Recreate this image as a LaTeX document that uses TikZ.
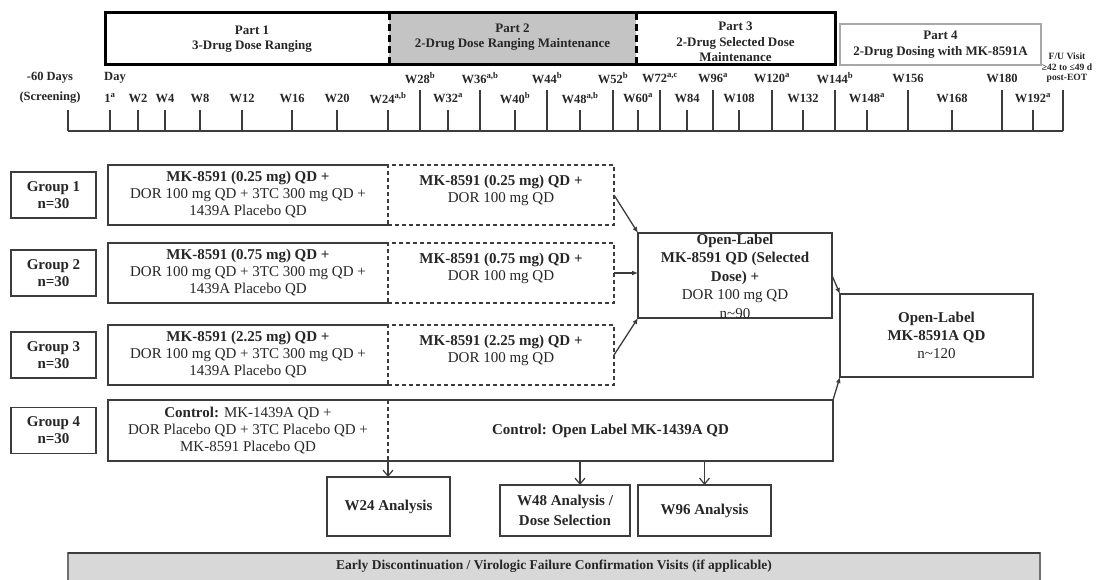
\documentclass[tikz,border=0pt]{standalone}
\usepackage{fontspec}
\setmainfont{Liberation Serif}
\usetikzlibrary{arrows.meta}
\definecolor{linec}{HTML}{3C3C3C}
\definecolor{txt}{HTML}{262626}
\definecolor{parttwo}{HTML}{C4C4C4}
\definecolor{partfour}{HTML}{A8A8A8}
\definecolor{barfill}{HTML}{D8D8D8}
\definecolor{barline}{HTML}{707070}
\begin{document}
\begin{tikzpicture}[x=1pt,y=-1pt,
  every node/.style={text=txt, inner sep=0pt, outer sep=0pt},
  sz/.style n args={2}{minimum width=#1pt, minimum height=#2pt},
  ln/.style={draw=linec, line width=1.4pt},
  dsh/.style={draw=linec, line width=1.3pt, dash pattern=on 4pt off 3pt},
  thk/.style={draw=black, line width=3pt},
  thkd/.style={draw=black, line width=3pt, dash pattern=on 7pt off 4pt},
  big/.style={font=\fontsize{15}{17}\selectfont, align=center},
  bigb/.style={font=\fontsize{15}{17}\selectfont\bfseries, align=center},
  tl/.style={font=\fontsize{12.5}{14}\selectfont\bfseries},
  fu/.style={font=\fontsize{9.6}{10.5}\selectfont\bfseries, align=center},
  parttxt/.style={font=\fontsize{13}{15.5}\selectfont\bfseries, align=center},
  tick/.style={draw=linec, line width=1.2pt},
  farr/.style={draw=linec, line width=1.3pt, -{Latex[length=6pt,width=5pt]}},
  darr/.style={draw=linec, line width=1.2pt, -{Straight Barb[length=6pt,width=10pt]}}
]
\useasboundingbox (0,0) rectangle (1097,580);

% ---------- Parts bar ----------
\node[sz={284}{52}] (p1) at (247,39) {};
\node[sz={247}{52}, fill=parttwo] (p2) at (512.5,39) {};
\node[sz={199}{52}] (p3) at (735.5,39) {};
\node[sz={201}{41}, draw=partfour, line width=2.5pt, parttxt] (p4) at (940.5,44.5) {Part 4\\2-Drug Dosing with MK-8591A};
\draw[thk] (p1.north west) -- (p3.north east);
\draw[thk] (p1.south west) -- (p3.south east);
\draw[thk] ([yshift=1.5pt]p1.north west) -- ([yshift=-1.5pt]p1.south west);
\draw[thk] ([yshift=1.5pt]p3.north east) -- ([yshift=-1.5pt]p3.south east);
\draw[thkd] (p1.north east) -- (p1.south east);
\draw[thkd] (p3.north west) -- (p3.south west);
\node[parttxt] (p1t) at (252,39) {Part 1\\3-Drug Dose Ranging};
\node[parttxt] (p2t) at (512.5,37) {Part 2\\2-Drug Dose Ranging Maintenance};
\node[parttxt] (p3t) at (735.5,42) {Part 3\\2-Drug Selected Dose\\Maintenance};

% ---------- Timeline ----------
\draw[tick] (68,131) -- (1063,131);
\foreach \x in {68,110,138,165,200,242,292,337,388,448,515,580,638,687,739,803,867,952,1033}
  \draw[tick] (\x,131) -- (\x,110);
\foreach \x in {420,480,547,613,660,713,772,835,908,1002,1063}
  \draw[tick] (\x,131) -- (\x,90);
% row 1
\node[tl] (l60) at (50,78) {-60 Days};
\node[tl] (lday) at (115,78) {Day};
\node[tl] (l28) at (420,78) {W28\textsuperscript{b}};
\node[tl] (l36) at (480,78) {W36\textsuperscript{a,b}};
\node[tl] (l44) at (547,78) {W44\textsuperscript{b}};
\node[tl] (l52) at (613,78) {W52\textsuperscript{b}};
\node[tl] (l72) at (660,78) {W72\textsuperscript{a,c}};
\node[tl] (l96) at (713,78) {W96\textsuperscript{a}};
\node[tl] (l120) at (772,78) {W120\textsuperscript{a}};
\node[tl] (l144) at (835,78) {W144\textsuperscript{b}};
\node[tl] (l156) at (908,78) {W156};
\node[tl] (l180) at (1002,78) {W180};
% row 2
\node[tl] (lscr) at (50,98) {(Screening)};
\node[tl] (l1) at (110,98) {1\textsuperscript{a}};
\node[tl] (l2) at (138,98) {W2};
\node[tl] (l4) at (165,98) {W4};
\node[tl] (l8) at (200,98) {W8};
\node[tl] (l12) at (242,98) {W12};
\node[tl] (l16) at (292,98) {W16};
\node[tl] (l20) at (337,98) {W20};
\node[tl] (l24) at (388,98) {W24\textsuperscript{a,b}};
\node[tl] (l32) at (448,98) {W32\textsuperscript{a}};
\node[tl] (l40) at (515,98) {W40\textsuperscript{b}};
\node[tl] (l48) at (580,98) {W48\textsuperscript{a,b}};
\node[tl] (l60w) at (638,98) {W60\textsuperscript{a}};
\node[tl] (l84) at (687,98) {W84};
\node[tl] (l108) at (739,98) {W108};
\node[tl] (l132) at (803,98) {W132};
\node[tl] (l148) at (867,98) {W148\textsuperscript{a}};
\node[tl] (l168) at (952,98) {W168};
\node[tl] (l192) at (1033,98) {W192\textsuperscript{a}};
\node[fu] (lfu) at (1067,68) {F/U Visit\\≥42 to ≤49 d\\post-EOT};

% ---------- Group labels ----------
\node[ln, sz={85}{46}, bigb] (g1) at (53.5,195) {Group 1\\n=30};
\node[ln, sz={85}{46}, bigb] (g2) at (53.5,273) {Group 2\\n=30};
\node[ln, sz={85}{46}, bigb] (g3) at (53.5,355) {Group 3\\n=30};
\node[ln, sz={85}{46}, bigb] (g4) at (53.5,430.5) {Group 4\\n=30};

% ---------- Part 1 regimens ----------
\node[sz={280}{60}, big] (r1) at (248,195) {\textbf{MK-8591 (0.25 mg) QD +}\\DOR 100 mg QD + 3TC 300 mg QD +\\1439A Placebo QD};
\node[sz={280}{60}, big] (r2) at (248,273) {\textbf{MK-8591 (0.75 mg) QD +}\\DOR 100 mg QD + 3TC 300 mg QD +\\1439A Placebo QD};
\node[sz={280}{60}, big] (r3) at (248,355) {\textbf{MK-8591 (2.25 mg) QD +}\\DOR 100 mg QD + 3TC 300 mg QD +\\1439A Placebo QD};
\node[sz={280}{61}, big] (c4) at (248,430.5) {\textbf{Control:} MK-1439A QD +\\DOR Placebo QD + 3TC Placebo QD +\\MK-8591 Placebo QD};
\foreach \n in {r1,r2,r3,c4}
  \draw[ln] (\n.north east) -- (\n.north west) -- (\n.south west) -- (\n.south east);

% ---------- Part 2 regimens ----------
\node[sz={226}{60}, dsh] (d1) at (501,195) {};
\node[sz={226}{60}, dsh] (d2) at (501,273) {};
\node[sz={226}{60}, dsh] (d3) at (501,355) {};
\node[big] (d1t) at ([yshift=5pt]d1.center) {\textbf{MK-8591 (0.25 mg) QD +}\\DOR 100 mg QD};
\node[big] (d2t) at ([yshift=5pt]d2.center) {\textbf{MK-8591 (0.75 mg) QD +}\\DOR 100 mg QD};
\node[big] (d3t) at ([yshift=5pt]d3.center) {\textbf{MK-8591 (2.25 mg) QD +}\\DOR 100 mg QD};

% ---------- Control open label ----------
\node[sz={445}{61}, bigb] (ctrl) at (610.5,430.5) {Control: Open Label MK-1439A QD};
\draw[ln] (ctrl.north west) -- (ctrl.north east) -- (ctrl.south east) -- (ctrl.south west);
\draw[dsh] (ctrl.north west) -- (ctrl.south west);

% ---------- Open-label boxes ----------
\node[ln, sz={194}{85}] (ol1) at (735,275.5) {};
\node[font=\fontsize{15}{18.5}\selectfont, align=center] (ol1t) at (735,276)
  {\textbf{Open-Label}\\\textbf{MK-8591 QD (Selected}\\\textbf{Dose) +}\\DOR 100 mg QD\\n\textasciitilde 90};
\node[ln, sz={193}{83}, font=\fontsize{15}{18}\selectfont, align=center] (ol2) at (936.5,335.5)
  {\textbf{Open-Label}\\\textbf{MK-8591A QD}\\n\textasciitilde 120};

% ---------- Analyses ----------
\node[ln, sz={123}{59}, bigb] (w24) at (388.5,506.5) {W24 Analysis};
\node[ln, sz={130}{51}, font=\fontsize{15}{20}\selectfont\bfseries, align=center] (w48) at (565,510.5) {W48 Analysis /\\Dose Selection};
\node[ln, sz={133}{51}, bigb] (w96) at (704.5,510.5) {W96 Analysis};

% ---------- Connectors ----------
\draw[farr] (d1.east) -- (ol1.north west);
\draw[farr] (d2.east) -- (d2.east -| ol1.west);
\draw[farr] (d3.east) -- (ol1.south west);
\draw[farr] (ol1.east) -- (ol2.north west);
\draw[farr] (ctrl.north east) -- (ol2.south west);
\draw[darr] (ctrl.south west) -- (w24.north -| ctrl.south west);
\draw[darr] ([xshift=15pt]w48.north |- ctrl.south) -- ([xshift=15pt]w48.north);
\draw[darr] (w96.north |- ctrl.south) -- (w96.north);

% ---------- Bottom bar ----------
\node[sz={972}{40}, fill=barfill, draw=barline, line width=1.2pt] (bar) at (554,573) {};
\draw[draw=linec, line width=2pt] (bar.north west) -- (bar.north east);
\node[font=\fontsize{13.5}{15}\selectfont\bfseries] (bart) at (554,566)
  {Early Discontinuation / Virologic Failure Confirmation Visits (if applicable)};
\end{tikzpicture}
\end{document}
